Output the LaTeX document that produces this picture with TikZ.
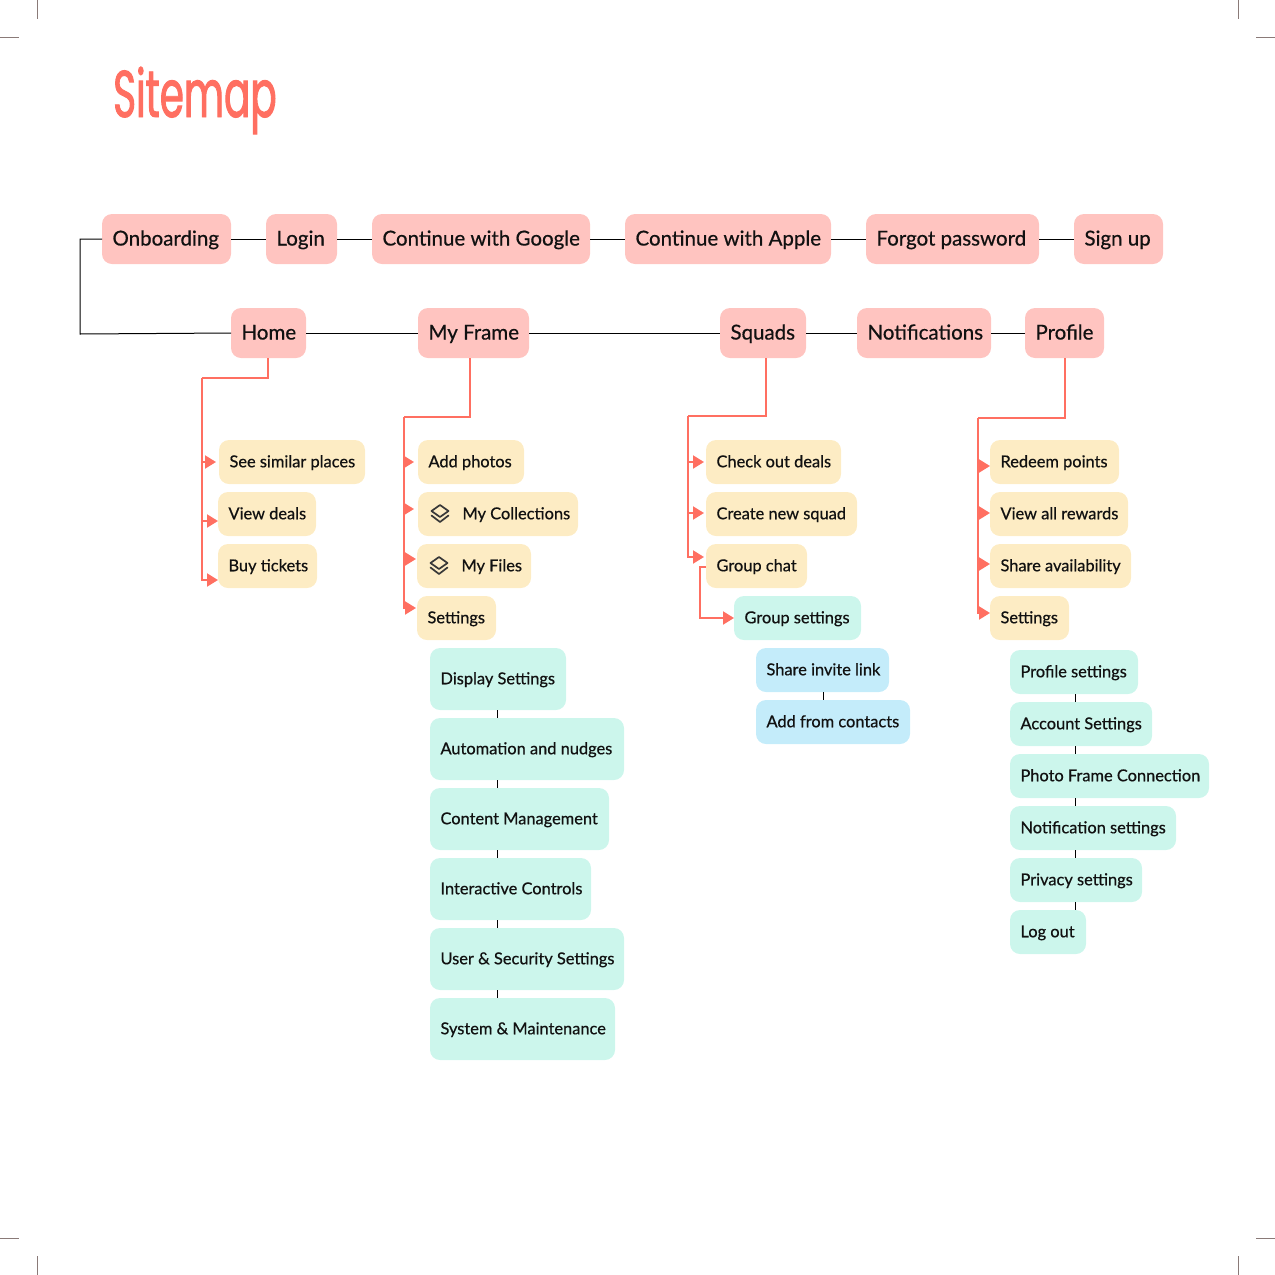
\documentclass[tikz,border=0pt]{standalone}
\usepackage{fontspec}
\setmainfont{Lato}[FakeBold=0.6]
\newfontfamily\titlefont{Poppins}[FakeStretch=0.59,FakeBold=1.4]
\usetikzlibrary{arrows.meta,calc}
\definecolor{pinkbox}{HTML}{FFC4C0}
\definecolor{yellowbox}{HTML}{FDECC4}
\definecolor{greenbox}{HTML}{CCF6EC}
\definecolor{bluebox}{HTML}{C4ECFA}
\definecolor{coral}{HTML}{FF6F61}
\definecolor{cropgrey}{HTML}{8A7A78}
\definecolor{inktext}{HTML}{111111}
\tikzset{
  boxbase/.style={rectangle,rounded corners=10pt,anchor=north west,inner ysep=0pt,inner xsep=10.5pt,align=left,text=inktext,outer sep=0pt},
  pinkn/.style={boxbase,fill=pinkbox,font=\fontsize{20.5}{24}\selectfont,text height=17pt,text depth=4pt},
  yellown/.style={boxbase,fill=yellowbox,font=\fontsize{16.4}{20}\selectfont,text height=14.5pt,text depth=4pt},
  greenn/.style={boxbase,fill=greenbox,font=\fontsize{16.4}{20}\selectfont,text height=14.5pt,text depth=4pt},
  bluen/.style={boxbase,fill=bluebox,font=\fontsize{16.4}{20}\selectfont,text height=14.5pt,text depth=4pt},
  blackline/.style={draw=black,line width=1pt},
  redline/.style={draw=coral,line width=2pt},
  redarrow/.style={redline,-{Triangle[length=11pt,width=13pt]}},
  cropmark/.style={draw=cropgrey,line width=1pt},
  iconline/.style={draw=black!78,line width=1.7pt,line join=round,line cap=round}
}
\newcommand{\bx}[7]{%
  \pgfmathsetmacro{\bw}{#4-#2}\pgfmathsetmacro{\bh}{#5-#3}\pgfmathsetmacro{\bt}{#4-#2-21}%
  \node[#6,minimum height=\bh pt,minimum width=\bw pt] (#1) at (#2,#3) {\makebox[\bt pt][l]{#7}};}
\newcommand{\layersicon}[2]{%
  \begin{scope}[shift={(#1,#2)}]
  \draw[iconline] (0,-8) -- (8.5,-2) -- (0,4) -- (-8.5,-2) -- cycle;
  \draw[iconline] (-8.5,2.5) -- (0,9) -- (8.5,2.5);
  \end{scope}}
\begin{document}
\begin{tikzpicture}[x=1pt,y=-1pt]
\useasboundingbox (0,0) rectangle (1275,1275);
% crop marks
\draw[cropmark] (37,0) -- (37,19); \draw[cropmark] (0,37) -- (19,37);
\draw[cropmark] (1238,0) -- (1238,19); \draw[cropmark] (1256,37) -- (1275,37);
\draw[cropmark] (37,1256) -- (37,1275); \draw[cropmark] (0,1238) -- (19,1238);
\draw[cropmark] (1238,1256) -- (1238,1275); \draw[cropmark] (1256,1238) -- (1275,1238);
% title
\node[anchor=base west,inner sep=0pt,text=coral,font=\titlefont\fontsize{66}{66}\selectfont] (title) at (113,117) {Sitemap};
% top row
\bx{onb}{102}{214}{231}{264}{pinkn}{Onboarding}
\bx{login}{266}{214}{337}{264}{pinkn}{Login}
\bx{google}{372}{214}{590}{264}{pinkn}{Continue with Google}
\bx{apple}{625}{214}{831}{264}{pinkn}{Continue with Apple}
\bx{forgot}{866}{214}{1039}{264}{pinkn}{Forgot password}
\bx{signup}{1074}{214}{1163}{264}{pinkn}{Sign up}
% second row
\bx{home}{231}{308}{306}{358}{pinkn}{Home}
\bx{frame}{418}{308}{529}{358}{pinkn}{My Frame}
\bx{squads}{720}{308}{806}{358}{pinkn}{Squads}
\bx{notif}{857}{308}{991}{358}{pinkn}{Notifications}
\bx{profile}{1025}{308}{1104}{358}{pinkn}{Profile}
% home children
\bx{similar}{219}{440}{365}{484}{yellown}{See similar places}
\bx{deals}{218}{492}{316}{536}{yellown}{View deals}
\bx{tickets}{218}{544}{317}{588}{yellown}{Buy tickets}
% frame children
\bx{photos}{418}{440}{524}{484}{yellown}{Add photos}
\bx{collections}{418}{492}{578}{536}{yellown}{\hspace*{34pt}My Collections}
\bx{files}{417}{544}{531}{588}{yellown}{\hspace*{34pt}My Files}
\bx{fsettings}{417}{596}{496}{640}{yellown}{Settings}
\layersicon{440}{513}
\layersicon{439}{565}
\bx{display}{430}{648}{566}{710}{greenn}{Display Settings}
\bx{automation}{430}{718}{624}{780}{greenn}{Automation and nudges}
\bx{content}{430}{788}{609}{850}{greenn}{Content Management}
\bx{interactive}{430}{858}{591}{920}{greenn}{Interactive Controls}
\bx{security}{430}{928}{624}{990}{greenn}{User \& Security Settings}
\bx{system}{430}{998}{615}{1060}{greenn}{System \& Maintenance}
% squads children
\bx{check}{706}{440}{841}{484}{yellown}{Check out deals}
\bx{create}{706}{492}{857}{536}{yellown}{Create new squad}
\bx{chat}{706}{544}{807}{588}{yellown}{Group chat}
\bx{gsettings}{734}{596}{861}{640}{greenn}{Group settings}
\bx{invite}{756}{648}{889}{692}{bluen}{Share invite link}
\bx{contacts}{756}{700}{910}{744}{bluen}{Add from contacts}
% profile children
\bx{redeem}{990}{440}{1119}{484}{yellown}{Redeem points}
\bx{rewards}{990}{492}{1128}{536}{yellown}{View all rewards}
\bx{avail}{990}{544}{1131}{588}{yellown}{Share availability}
\bx{psettings}{990}{596}{1069}{640}{yellown}{Settings}
\bx{psett}{1010}{650}{1138}{694}{greenn}{Profile settings}
\bx{account}{1010}{702}{1152}{746}{greenn}{Account Settings}
\bx{connection}{1010}{754}{1209}{798}{greenn}{Photo Frame Connection}
\bx{nsettings}{1010}{806}{1176}{850}{greenn}{Notification settings}
\bx{privacy}{1010}{858}{1142}{902}{greenn}{Privacy settings}
\bx{logout}{1010}{910}{1086}{954}{greenn}{Log out}
% black connectors
\foreach \a/\b in {onb/login,login/google,google/apple,apple/forgot,forgot/signup,home/frame,frame/squads,squads/notif,notif/profile}
  \draw[blackline] (\a.east) -- (\b.west);
\coordinate (loopa) at (80,239);
\coordinate (loopb) at (80,334);
\draw[blackline] (onb.west) -- (loopa) -- (loopb) -- (home.west);
\foreach \a/\b in {display/automation,automation/content,content/interactive,interactive/security,security/system}
  \draw[blackline] (\a.south -| 497.5,0) -- (\b.north -| 497.5,0);
\foreach \a/\b in {psett/account,account/connection,connection/nsettings,nsettings/privacy,privacy/logout}
  \draw[blackline] (\a.south -| 1075,0) -- (\b.north -| 1075,0);
\draw[blackline] (invite.south -| 823.5,0) -- (contacts.north -| 823.5,0);
% home tree
\coordinate (ht) at (202,378);
\draw[redline] (home.south -| 268,0) |- (ht);
\foreach \c/\ty/\tx in {similar/462/216,deals/521/218,tickets/580/218}{
  \coordinate (tip) at (\tx,\ty);
  \draw[redarrow] (ht) |- (tip);
}
% frame tree
\coordinate (ft) at (403.5,417);
\draw[redline] (frame.south -| 470,0) |- (ft);
\foreach \c/\ty/\tx in {photos/462/414,collections/509/414,files/559/416,fsettings/608/416}{
  \coordinate (tip) at (\tx,\ty);
  \draw[redarrow] (ft) |- (tip);
}
% squads tree
\coordinate (st) at (688,416);
\draw[redline] (squads.south -| 765.5,0) |- (st);
\foreach \c/\ty/\tx in {check/462/704,create/513/704,chat/557/704}{
  \coordinate (tip) at (\tx,\ty);
  \draw[redarrow] (st) |- (tip);
}
\coordinate (ca) at (706,567);
\coordinate (cb) at (700,567);
\draw[redarrow] (ca) -- (cb) |- (gsettings.west);
% profile tree
\coordinate (pt) at (978,418);
\draw[redline] (profile.south -| 1065,0) |- (pt);
\foreach \c/\ty/\tx in {redeem/466/990,rewards/513/990,avail/564/990,psettings/613/990}{
  \coordinate (tip) at (\tx,\ty);
  \draw[redarrow] (pt) |- (tip);
}
\end{tikzpicture}
\end{document}
